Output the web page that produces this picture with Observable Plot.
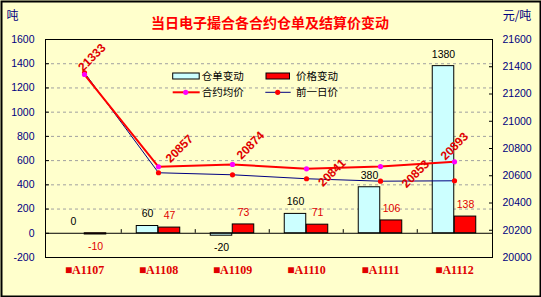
<!DOCTYPE html>
<html>
<head>
<meta charset="utf-8">
<script src="https://cdn.jsdelivr.net/npm/d3@7"></script>
<script src="https://cdn.jsdelivr.net/npm/@observablehq/plot@0.6"></script>
<style>
  html, body { margin: 0; padding: 0; overflow: hidden; background: #FFFFCC; }
  svg { display: block; }
</style>
</head>
<body>
<div id="chart"></div>
<script>
// ---- data ----
const categories = ["■A1107", "■A1108", "■A1109", "■A1110", "■A1111", "■A1112"];
const stockChange = [0, 60, -20, 160, 380, 1380];          // 仓单变动 (吨, left axis)
const priceChange = [-10, 47, 73, 71, 106, 138];           // 价格变动 (left axis)
const avgPrice = [21343, 20666, 20683, 20651, 20668, 20702];   // 合约均价 (元/吨, right axis)
const prevPrice = [21356, 20622, 20607, 20578, 20560, 20563];  // 前一日价 (元/吨, right axis)
const avgPriceLabels = ["21333", "20857", "20874", "20841", "20853", "20893"];
const leftTicks = [-200, 0, 200, 400, 600, 800, 1000, 1200, 1400, 1600];
const rightTicks = [20000, 20200, 20400, 20600, 20800, 21000, 21200, 21400, 21600];
const gridTicks = [200, 400, 600, 800, 1000, 1200, 1400];
const seriesNames = ["仓单变动", "价格变动", "合约均价", "前一日价"];
const titleText = "当日电子撮合各合约仓单及结算价变动";
const leftUnit = "吨";
const rightUnit = "元/吨";

// ---- styling / layout ----
const C = {
  bg: "#FFFFCC", cyan: "#CCFFFF", red: "#FF0000", magenta: "#FF00FF",
  navy: "#000080", text: "#000000", redText: "#E00000", grid: "#A0A0A0"
};
const W = 541, H = 297;
const mL = 45, mR = 49, mT = 39, mB = 40;
const band = (W - mL - mR) / categories.length;
const barW = 22;
// label offsets for rotated price labels (pixels, relative to the point)
const lblDx = [7.5, 21, 18, 25.5, 35, 0];
const lblDy = [-17, -18, -19, 4, 7.5, -15.5];

// right axis (price) mapped onto the left axis domain
const leftDom = [-200, 1600], rightDom = [20000, 21600];
const toLeft = p => leftDom[0] + (p - rightDom[0]) * (leftDom[1] - leftDom[0]) / (rightDom[1] - rightDom[0]);
const fromLeft = v => rightDom[0] + (v - leftDom[0]) * (rightDom[1] - rightDom[0]) / (leftDom[1] - leftDom[0]);

const idx = categories.map((_, i) => i);
const sansFont = "'Liberation Sans', Arial, sans-serif";
const cjkFont = "'Noto Sans CJK SC', 'Noto Sans', sans-serif";

function valueLabels(values, dx, fill) {
  const common = {x: i => categories[i], y: i => values[i], text: i => String(values[i]),
    dx, fill, fontSize: 10.5, lineAnchor: "middle", textAnchor: "middle"};
  return [
    Plot.text(idx.filter(i => values[i] >= 0), {...common, dy: -12}),
    Plot.text(idx.filter(i => values[i] < 0), {...common, dy: 12})
  ];
}

const chart = Plot.plot({
  width: W, height: H,
  marginLeft: mL, marginRight: mR, marginTop: mT, marginBottom: mB,
  style: {background: C.bg, fontFamily: sansFont, fontSize: "10.5px", overflow: "visible"},
  x: {type: "band", domain: categories, padding: 0, axis: null},
  y: {domain: leftDom, axis: null},
  marks: [
    // outer chart border
    Plot.frame({insetLeft: -(mL - 1), insetRight: -(mR - 1), insetTop: -(mT - 1), insetBottom: -(mB - 1), stroke: "#000", strokeWidth: 2}),
    Plot.gridY(gridTicks, {stroke: C.grid, strokeOpacity: 1, strokeDasharray: "3,3"}),
    // bars
    Plot.barY(idx, {x: i => categories[i], y: i => stockChange[i], fill: C.cyan, stroke: "#000", strokeWidth: 1,
      insetLeft: band / 2 - barW, insetRight: band / 2}),
    Plot.barY(idx, {x: i => categories[i], y: i => priceChange[i], fill: C.red, stroke: "#000", strokeWidth: 1,
      insetLeft: band / 2, insetRight: band / 2 - barW}),
    // zero line and category tick marks
    Plot.ruleY([0], {stroke: "#000"}),
    Plot.ruleX(categories.slice(1), {x: d => d, dx: -band / 2, y1: 0, y2: 30, stroke: "#000"}),
    // lines
    Plot.line(idx, {x: i => categories[i], y: i => toLeft(prevPrice[i]), stroke: C.navy, strokeWidth: 1}),
    Plot.line(idx, {x: i => categories[i], y: i => toLeft(avgPrice[i]), stroke: C.red, strokeWidth: 2}),
    Plot.dot(idx, {x: i => categories[i], y: i => toLeft(prevPrice[i]), r: 2.6, fill: C.red, stroke: null}),
    Plot.dot(idx, {x: i => categories[i], y: i => toLeft(avgPrice[i]), r: 2.6, fill: C.magenta, stroke: null}),
    // value labels
    ...valueLabels(stockChange, -barW / 2, C.text),
    ...valueLabels(priceChange, barW / 2, C.redText),
    // rotated price labels
    ...idx.map(i => Plot.text([i], {x: j => categories[j], y: j => toLeft(avgPrice[j]), text: j => avgPriceLabels[j],
      dx: lblDx[i], dy: lblDy[i], rotate: -45, fill: C.redText, fontWeight: "bold", fontSize: 12,
      textAnchor: "middle", lineAnchor: "middle"})),
    // frame
    Plot.frame({stroke: "#000", strokeWidth: 1}),
    // axes
    Plot.axisY(leftTicks, {anchor: "left", tickSize: -4, tickPadding: 15, fill: C.navy, stroke: "#000",
      fontSize: 10.5, tickFormat: d => String(d)}),
    Plot.axisY(rightTicks.map(toLeft), {anchor: "right", tickSize: -4, tickPadding: 14, fill: C.navy, stroke: "#000",
      fontSize: 10.5, tickFormat: v => String(Math.round(fromLeft(v)))}),
    Plot.axisX({anchor: "bottom", tickSize: 0, tickPadding: 8, fill: C.redText, fontWeight: "bold",
      fontSize: 12, fontFamily: "'Liberation Serif', 'DejaVu Serif', serif"}),
    // title and units
    Plot.text([titleText], {frameAnchor: "top", dx: 1, dy: -15.5, fill: C.red, fontWeight: "bold", fontSize: 14,
      fontFamily: cjkFont, lineAnchor: "middle"}),
    Plot.text([leftUnit], {frameAnchor: "top-left", dx: -33, dy: -23.5, fill: C.navy, fontSize: 12,
      fontFamily: cjkFont, textAnchor: "middle", lineAnchor: "middle"}),
    Plot.text([rightUnit], {frameAnchor: "top-right", dx: 24.5, dy: -23.5, fill: C.navy, fontSize: 12,
      fontFamily: cjkFont, textAnchor: "middle", lineAnchor: "middle"})
  ]
});

document.getElementById("chart").appendChild(chart);

// ---- legend (inside plot area, top) ----
const svg = d3.select(chart);
const lg = svg.append("g").attr("font-family", cjkFont).attr("font-size", 10.5).attr("text-anchor", "start");
const row1 = 76, row2 = 92.3;
const col1 = 172.7, col2 = 266;
// 仓单变动
lg.append("rect").attr("x", col1).attr("y", row1 - 3).attr("width", 26.5).attr("height", 6)
  .attr("fill", C.cyan).attr("stroke", "#000");
lg.append("text").attr("x", col1 + 29).attr("y", row1).attr("dy", "0.35em").text(seriesNames[0]);
// 价格变动
lg.append("rect").attr("x", col2).attr("y", row1 - 3).attr("width", 23.5).attr("height", 6)
  .attr("fill", C.red).attr("stroke", "#000");
lg.append("text").attr("x", col2 + 30).attr("y", row1).attr("dy", "0.35em").text(seriesNames[1]);
// 合约均价
lg.append("line").attr("x1", col1).attr("x2", col1 + 27).attr("y1", row2).attr("y2", row2)
  .attr("stroke", C.red).attr("stroke-width", 2);
lg.append("circle").attr("cx", col1 + 13).attr("cy", row2).attr("r", 2.6).attr("fill", C.magenta);
lg.append("text").attr("x", col1 + 29).attr("y", row2).attr("dy", "0.35em").text(seriesNames[2]);
// 前一日价
lg.append("line").attr("x1", col2 - 0.7).attr("x2", col2 + 24.7).attr("y1", row2).attr("y2", row2)
  .attr("stroke", C.navy).attr("stroke-width", 1);
lg.append("circle").attr("cx", col2 + 11.7).attr("cy", row2).attr("r", 2.6).attr("fill", C.red);
lg.append("text").attr("x", col2 + 30).attr("y", row2).attr("dy", "0.35em").text(seriesNames[3]);
</script>
</body>
</html>
